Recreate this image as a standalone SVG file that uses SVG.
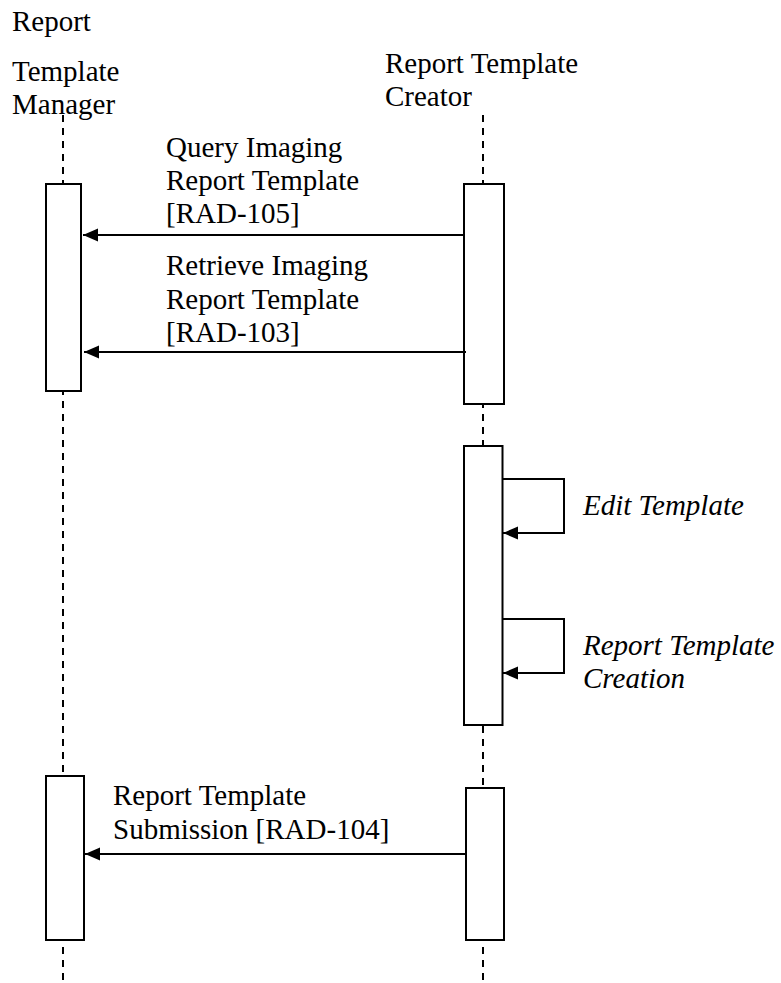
<svg xmlns="http://www.w3.org/2000/svg" width="781" height="983" viewBox="0 0 781 983">
<style>
text{font-size:29px;fill:#000}
.it{font-style:italic}
.life{stroke:#000;stroke-width:2;stroke-dasharray:7 6;fill:none}
.act{fill:#fff;stroke:#000;stroke-width:2}
.msg{stroke:#000;stroke-width:2;fill:none;marker-end:url(#ah)}
</style>
<defs>
<marker id="ah" markerUnits="userSpaceOnUse" markerWidth="16" markerHeight="14" refX="15" refY="6.5" orient="auto">
<path d="M0,0 L15,6.5 L0,13 z" fill="#000"/>
</marker>
</defs>
<rect width="781" height="983" fill="#fff"/>
<g font-family="Liberation Serif, Tinos, DejaVu Serif, serif">
<g id="manager">
<line class="life" x1="63" y1="115" x2="63" y2="983"/>
<text x="12" y="31">Report</text>
<text x="12" y="81">Template</text>
<text x="12" y="114">Manager</text>
<rect class="act" x="46" y="184" width="35" height="207"/>
<rect class="act" x="46" y="776" width="38" height="164"/>
</g>
<g id="creator">
<line class="life" x1="483" y1="115" x2="483" y2="983"/>
<text x="385" y="73">Report Template</text>
<text x="385" y="106">Creator</text>
<rect class="act" x="464" y="184" width="40" height="220"/>
<rect class="act" x="464" y="446" width="38.5" height="279"/>
<rect class="act" x="466" y="788" width="38" height="152"/>
</g>
<g id="connectors">
<line class="msg" x1="463" y1="235" x2="83" y2="235"/>
<line class="msg" x1="466" y1="352" x2="84" y2="352"/>
<polyline class="msg" points="503,479 564,479 564,533 503,533"/>
<polyline class="msg" points="503,619 564,619 564,673 503,673"/>
<line class="msg" x1="466" y1="854" x2="85" y2="854"/>
</g>
<g id="labels">
<text x="166" y="157">Query Imaging</text>
<text x="166" y="190">Report Template</text>
<text x="166" y="223">[RAD-105]</text>
<text x="166" y="275">Retrieve Imaging</text>
<text x="166" y="309">Report Template</text>
<text x="166" y="342">[RAD-103]</text>
<text class="it" x="583" y="515">Edit Template</text>
<text class="it" x="583" y="655">Report Template</text>
<text class="it" x="583" y="688">Creation</text>
<text x="113" y="805">Report Template</text>
<text x="113" y="839">Submission [RAD-104]</text>
</g>
</g>
</svg>
